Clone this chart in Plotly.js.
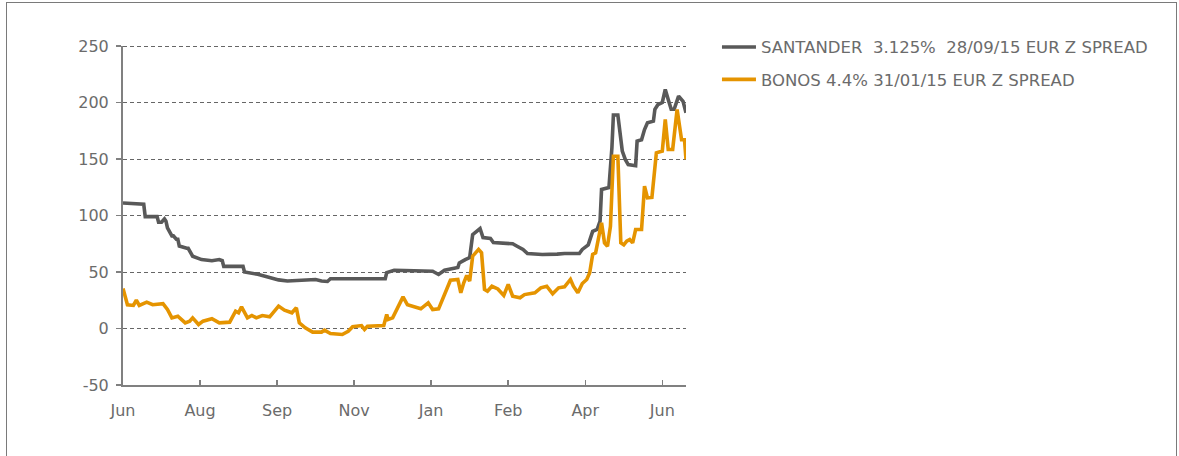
<!DOCTYPE html>
<html>
<head>
<meta charset="utf-8">
<script src="https://cdn.plot.ly/plotly-3.0.1.min.js"></script>
<style>
  html, body { margin: 0; padding: 0; background: #fff; }
  #wrap { position: relative; width: 1179px; height: 456px; }
  #chart { width: 1179px; height: 456px; }
  #frame { position: absolute; left: 6px; top: 2px; width: 1171px; height: 470px;
           border: 1px solid #7a7a7a; pointer-events: none; box-sizing: border-box; }
</style>
</head>
<body>
<div id="wrap">
  <div id="chart"></div>
  <div id="frame"></div>
</div>
<script>
// ---- data (days since start date, Z spread in bp) ----
const startDate = '2014-06-11';
const seriesNames = ['SANTANDER\u00a0 3.125%\u00a0 28/09/15 EUR Z SPREAD', 'BONOS 4.4% 31/01/15 EUR Z SPREAD'];
const tickMonths = ['Jun', 'Aug', 'Sep', 'Nov', 'Jan', 'Feb', 'Apr', 'Jun'];

const santanderDays = [0, 14, 15, 23, 24, 26, 28, 29, 30, 33, 34, 36, 37, 38, 43, 44, 47, 53, 60, 65, 67, 68, 81, 82, 91, 94, 98, 105, 111, 121, 130, 134, 138, 140, 142, 152, 158, 165, 170, 175, 177, 178, 183, 190, 197, 205, 209, 213, 217, 226, 227, 231, 234, 236, 241, 243, 248, 250, 263, 266, 270, 273, 283, 293, 298, 308, 310, 314, 317, 320, 322, 323, 328, 330, 331, 334, 337, 339, 341, 346, 347, 350, 352, 354, 358, 359, 361, 364, 366, 368, 370, 372, 375, 378, 380];
const santanderZ   = [111, 110, 99, 99, 94, 94, 97, 95, 89, 82, 82, 79, 79, 73, 71, 71, 64, 61, 60, 61, 60, 55, 55, 50, 48, 47, 45, 43, 42, 42.5, 43.4, 42, 41.6, 44, 44, 44, 43.5, 43.4, 44, 44, 44, 49.5, 51.6, 51.3, 51.3, 51, 50.7, 47.8, 51.6, 54, 58, 61, 62.8, 83, 88.5, 80.5, 79.6, 76, 75, 72.8, 70, 66.4, 65.5, 65.8, 66.4, 66.4, 70, 74, 86, 87.6, 95, 123, 124.8, 160, 189, 189, 157, 149.6, 145, 144, 165.8, 167, 176, 182, 183.5, 194, 198, 200, 211.5, 202.7, 194, 194, 205.6, 201, 191];

const bonosDays = [0, 3, 7, 9, 11, 16, 20, 27, 30, 33, 37, 42, 45, 47, 51, 54, 60, 65, 72, 76, 78, 80, 84, 87, 90, 94, 99, 105, 109, 114, 117, 119, 123, 128, 134, 136, 140, 148, 152, 155, 161, 163, 165, 174, 176, 178, 179, 182, 186, 189, 192, 197, 201, 206, 209, 213, 216, 221, 226, 228, 230, 232, 234, 236, 240, 242, 244, 246, 249, 253, 257, 260, 263, 268, 271, 278, 282, 286, 290, 294, 298, 302, 304, 307, 310, 313, 315, 317, 319, 321, 323, 325, 327, 329, 331, 334, 336, 338, 340, 342, 344, 346, 350, 352, 354, 357, 360, 364, 366, 368, 371, 374, 377, 379, 380];
const bonosZ     = [35.4, 21, 20.4, 25, 20.4, 23.3, 21, 22, 16.8, 9.4, 10.9, 5, 6.5, 9.4, 3.5, 6.5, 8.6, 5, 5.6, 15.3, 13.9, 19.2, 9.4, 11.5, 9.4, 11.5, 10.3, 19.8, 16.2, 13.9, 18.3, 5, 0.6, -3.2, -3.2, -1.5, -4.4, -5.3, -2.4, 1.5, 2.6, -0.9, 2, 2, 2.6, 12.4, 8, 9.4, 20.4, 28, 21, 19.2, 17.4, 22.7, 16.8, 17.4, 26.2, 42.7, 43.4, 31.6, 40.4, 46.9, 41.9, 64, 70, 67, 34.5, 33, 37.4, 35, 29.2, 39, 28.6, 27.2, 30, 31.6, 36, 37.4, 30.7, 36, 36.9, 43.4, 37.4, 31.6, 39.8, 43.4, 49.3, 65.5, 67, 78.8, 93.5, 75.8, 72.8, 90.5, 152.5, 152.5, 75.8, 74, 77.3, 78.8, 75.8, 87.6, 87.6, 126, 115.6, 116, 155.4, 157, 185, 158.4, 158.4, 193.8, 167, 167, 149.6];

const yTicks = [-50, 0, 50, 100, 150, 200, 250];

// ---- helpers ----
const DAY = 86400000;
const t0 = Date.parse(startDate + 'T00:00:00Z');
function toDate(d) { return new Date(t0 + d * DAY).toISOString().slice(0, 10); }
const lastDay = Math.max(santanderDays[santanderDays.length - 1], bonosDays[bonosDays.length - 1]);
const tickStep = 52;
const tickVals = tickMonths.map((m, i) => toDate(i * tickStep));
const yMin = yTicks[0], yMax = yTicks[yTicks.length - 1];
const pxPerUnit = (456 - 46 - 71) / (yMax - yMin);

const grey = '#595959';
const orange = '#E59400';
const txt = '#6b6b6b';
const gridCol = '#666666';
const gridDash = '4px,3px';
const font = 'DejaVu Sans, Verdana, sans-serif';

const traces = [
  { x: santanderDays.map(toDate), y: santanderZ, name: seriesNames[0], type: 'scatter', mode: 'lines',
    line: { color: grey, width: 3.6 }, legendgroup: 'a' },
  { x: bonosDays.map(toDate), y: bonosZ, name: seriesNames[1], type: 'scatter', mode: 'lines',
    line: { color: orange, width: 3.6 }, legendgroup: 'b' }
];

// top gridline drawn as a shape (Plotly omits the gridline at the range edge); nudged half a pixel to stay crisp
const topGridY = yMax - 0.5 / pxPerUnit;

const layout = {
  width: 1179, height: 456,
  margin: { l: 123, r: 493, t: 46, b: 71 },
  paper_bgcolor: '#fff', plot_bgcolor: '#fff',
  font: { family: font, size: 16, color: txt },
  showlegend: true,
  legend: { x: 1.055, xanchor: 'left', y: 1.048, yanchor: 'top', traceorder: 'grouped', tracegroupgap: 8,
            itemwidth: 34,
            font: { family: font, size: 16.5, color: txt }, bgcolor: 'rgba(0,0,0,0)' },
  shapes: [
    { type: 'line', xref: 'paper', x0: 0, x1: 1, yref: 'y', y0: topGridY, y1: topGridY, layer: 'below',
      line: { color: gridCol, width: 1, dash: gridDash } }
  ],
  xaxis: {
    type: 'date', range: [toDate(0), toDate(lastDay)],
    tickmode: 'array', tickvals: tickVals, ticktext: tickMonths,
    ticks: 'inside', ticklen: 5, tickwidth: 1.5, tickcolor: '#808080',
    showline: true, linecolor: '#808080', linewidth: 2,
    showgrid: false, zeroline: false, ticklabelstandoff: 10,
    tickfont: { family: font, size: 16, color: txt }
  },
  yaxis: {
    range: [yMin, yMax], tickvals: yTicks, ticktext: yTicks.map(String),
    ticks: 'outside', ticklen: 5, tickwidth: 1.5, tickcolor: '#808080',
    showline: true, linecolor: '#808080', linewidth: 2,
    showgrid: true, gridcolor: gridCol, gridwidth: 1, griddash: gridDash,
    zeroline: false, ticklabelstandoff: 4,
    tickfont: { family: font, size: 16, color: txt }
  }
};

Plotly.newPlot('chart', traces, layout, { displayModeBar: false, staticPlot: true });
</script>
</body>
</html>
